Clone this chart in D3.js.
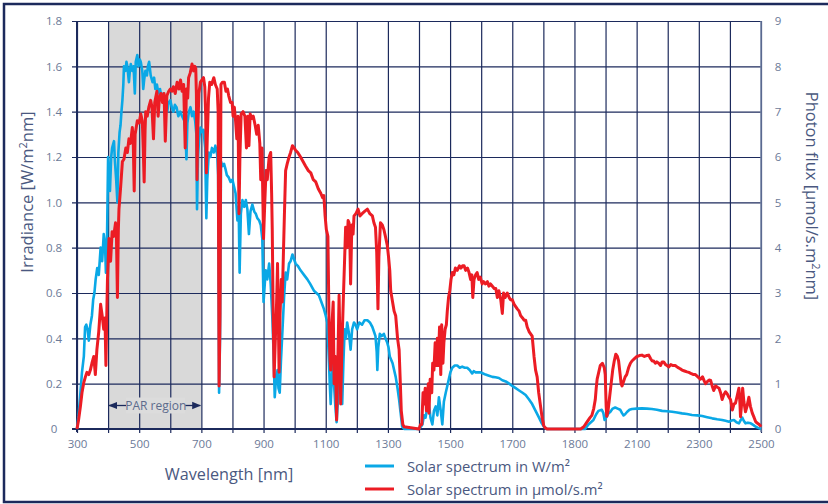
<!DOCTYPE html>
<html>
<head>
<meta charset="utf-8">
<script src="https://cdn.jsdelivr.net/npm/d3@7"></script>
<style>
  html, body { margin: 0; padding: 0; background: #ffffff; }
  svg { display: block; font-family: "Open Sans", "Lato", sans-serif; }
</style>
</head>
<body>
<svg id="chart" width="828" height="504"></svg>
<script>
// Solar irradiance spectrum (W/m²nm), wavelength in nm
const irrWavelength = [300,305,311,316,322,326,330,334,338,343,348,352,356,360,365,370,376,381,386,390,393,396,400,403,406,410,413,419,422,426,430,433,437,440,443,446,449,451,456,459,462,467,470,473,478,482,486,489,494,498,502,505,510,513,516,520,525,528,532,537,543,548,552,557,562,567,572,577,582,587,590,595,600,605,610,615,620,626,632,638,645,649,652,655,660,665,670,675,680,684,686,689,693,697,702,707,712,716,719,724,729,734,740,745,751,754,757,760,763,768,773,777,782,788,794,800,805,810,816,820,823,827,832,838,843,848,853,858,864,870,875,880,886,891,896,900,903,907,912,918,923,928,932,936,940,945,948,952,956,961,966,971,976,982,987,993,998,1003,1010,1019,1030,1041,1050,1062,1070,1078,1086,1094,1100,1105,1110,1113,1116,1120,1124,1127,1131,1135,1139,1143,1148,1153,1157,1161,1165,1169,1175,1180,1185,1191,1196,1201,1208,1217,1225,1234,1242,1250,1255,1260,1264,1266,1269,1274,1280,1287,1292,1298,1302,1306,1315,1325,1331,1336,1341,1346,1352,1400,1406,1411,1416,1421,1426,1432,1437,1443,1448,1454,1459,1464,1470,1475,1480,1486,1491,1496,1501,1507,1515,1523,1531,1539,1547,1555,1563,1571,1576,1582,1590,1598,1606,1614,1625,1636,1646,1657,1668,1679,1690,1700,1711,1722,1733,1743,1754,1764,1775,1786,1795,1802,1810,1934,1945,1953,1961,1970,1977,1988,1993,1997,2004,2010,2015,2023,2031,2039,2047,2053,2058,2063,2069,2077,2085,2100,2117,2133,2149,2165,2182,2198,2214,2230,2246,2262,2278,2295,2311,2327,2343,2359,2375,2386,2397,2405,2413,2421,2429,2435,2440,2445,2450,2458,2467,2475,2483,2491,2500];
const irrValue = [0,0.06,0.16,0.25,0.32,0.45,0.46,0.44,0.39,0.46,0.50,0.57,0.60,0.66,0.71,0.68,0.80,0.74,0.86,0.82,0.69,0.78,1.20,1.12,1.05,1.20,1.24,1.27,1.18,1.10,1.00,1.22,1.31,1.34,1.40,1.45,1.52,1.60,1.58,1.62,1.60,1.53,1.58,1.61,1.58,1.60,1.48,1.62,1.65,1.60,1.63,1.62,1.58,1.50,1.54,1.58,1.56,1.60,1.62,1.56,1.53,1.55,1.50,1.52,1.48,1.50,1.46,1.48,1.44,1.43,1.40,1.44,1.45,1.42,1.40,1.43,1.42,1.38,1.40,1.38,1.36,1.30,1.19,1.35,1.40,1.42,1.38,1.40,1.36,1.30,0.97,1.20,1.28,1.33,1.31,1.32,1.24,0.93,1.10,1.22,1.20,1.24,1.22,1.25,1.21,1.12,0.16,0.40,1.18,1.16,1.17,1.15,1.12,1.11,1.09,1.10,1.07,1.04,0.92,0.98,0.69,0.95,1.01,0.98,1.01,0.97,0.86,0.96,0.99,0.96,0.95,0.93,0.92,0.90,0.84,0.56,0.62,0.70,0.66,0.73,0.64,0.50,0.35,0.14,0.22,0.26,0.18,0.16,0.30,0.44,0.58,0.69,0.66,0.73,0.74,0.77,0.75,0.73,0.72,0.70,0.68,0.66,0.64,0.61,0.60,0.59,0.56,0.53,0.50,0.47,0.31,0.20,0.11,0.24,0.30,0.19,0.10,0.03,0.12,0.26,0.20,0.11,0.30,0.44,0.40,0.47,0.42,0.35,0.44,0.47,0.46,0.44,0.47,0.46,0.48,0.48,0.47,0.45,0.43,0.41,0.34,0.26,0.36,0.42,0.41,0.42,0.40,0.38,0.36,0.32,0.29,0.23,0.18,0.13,0.07,0.01,0,0,0.01,0.02,0.06,0.05,0.09,0.11,0.05,0.02,0.08,0.10,0.06,0.14,0.08,0.02,0.12,0.16,0.19,0.22,0.25,0.27,0.28,0.28,0.27,0.275,0.27,0.27,0.26,0.245,0.255,0.25,0.25,0.25,0.245,0.24,0.235,0.23,0.228,0.225,0.215,0.21,0.20,0.19,0.18,0.17,0.16,0.15,0.13,0.11,0.08,0.05,0.025,0.01,0,0,0.02,0.03,0.04,0.065,0.08,0.085,0.07,0.04,0.055,0.07,0.075,0.09,0.095,0.09,0.085,0.07,0.06,0.065,0.075,0.085,0.088,0.09,0.091,0.09,0.088,0.085,0.08,0.078,0.076,0.073,0.069,0.066,0.062,0.06,0.057,0.052,0.047,0.043,0.04,0.036,0.032,0.037,0.04,0.03,0.025,0.04,0.05,0.035,0.025,0.028,0.025,0.018,0.01,0.005,0];

// Photon flux spectrum (µmol/s.m²nm), wavelength in nm
const fluxWavelength = [300,305,311,316,322,327,332,338,343,348,354,359,364,370,376,381,386,390,393,396,398,403,408,413,418,424,427,430,433,435,440,443,446,451,457,462,467,472,478,481,484,487,494,500,505,510,513,516,519,521,526,531,537,541,546,550,557,561,565,570,575,580,584,589,595,600,605,610,616,622,628,633,638,643,648,652,656,659,664,670,675,679,682,684,686,688,692,697,702,707,711,714,716,719,723,727,733,740,745,751,754,757,760,763,768,774,779,784,788,794,799,802,806,810,814,818,821,824,828,834,840,845,849,853,857,862,867,873,878,883,888,891,895,898,900,904,908,912,918,923,926,928,931,934,938,942,945,948,950,953,957,960,964,967,971,976,982,987,993,998,1003,1010,1019,1027,1035,1044,1052,1060,1068,1076,1084,1090,1094,1098,1102,1107,1109,1111,1114,1116,1120,1124,1127,1131,1135,1139,1143,1146,1148,1152,1157,1161,1164,1168,1172,1175,1178,1180,1184,1188,1191,1197,1204,1210,1217,1225,1234,1242,1250,1255,1260,1264,1268,1271,1276,1282,1287,1292,1298,1302,1306,1309,1315,1320,1325,1331,1336,1340,1343,1348,1352,1400,1405,1409,1413,1416,1420,1424,1427,1430,1432,1436,1441,1444,1448,1452,1456,1459,1462,1466,1470,1473,1477,1480,1484,1488,1491,1495,1499,1503,1507,1512,1517,1523,1530,1535,1540,1545,1550,1556,1561,1566,1570,1573,1577,1582,1587,1592,1597,1603,1608,1614,1620,1625,1630,1636,1642,1647,1652,1657,1663,1668,1672,1677,1684,1690,1695,1700,1706,1711,1716,1722,1727,1733,1738,1743,1748,1754,1759,1764,1770,1775,1780,1785,1791,1796,1801,1805,1812,1920,1930,1940,1945,1950,1956,1962,1967,1970,1973,1978,1983,1990,1996,1999,2002,2004,2008,2013,2018,2023,2028,2033,2038,2042,2047,2050,2053,2058,2063,2068,2074,2080,2085,2093,2101,2109,2117,2125,2132,2139,2145,2150,2155,2160,2165,2171,2177,2182,2187,2193,2198,2203,2210,2217,2224,2232,2240,2246,2254,2262,2268,2276,2283,2289,2297,2305,2312,2318,2322,2328,2333,2338,2343,2348,2354,2360,2365,2370,2375,2380,2386,2391,2397,2402,2408,2413,2418,2424,2429,2432,2434,2437,2441,2445,2450,2455,2461,2466,2472,2478,2483,2490,2496,2500];
const fluxValue = [0,0.2,0.5,0.8,1.03,1.15,1.25,1.2,1.3,1.45,1.6,1.2,1.75,2.15,2.75,2.5,2.2,2.45,1.4,2.6,3.3,4.2,3.7,4.35,4.25,4.55,4.2,2.9,4.4,4.85,5.3,5.6,5.9,5.95,6.2,6.1,6.4,6.3,6.65,6.3,5.25,6.5,6.8,6.75,6.95,6.8,6.2,5.45,6.6,7.0,6.9,7.1,7.25,7.1,6.4,7.2,7.45,6.9,7.3,7.4,7.2,7.4,6.35,7.35,7.45,7.5,7.45,7.55,7.4,7.65,7.5,7.7,7.45,7.6,6.2,7.5,7.3,7.75,7.85,8.05,7.9,8.0,7.95,7.4,5.5,6.5,7.4,7.65,7.7,7.75,7.55,6.9,5.65,6.4,7.3,7.65,7.6,7.75,7.6,7.5,7.0,0.95,2.5,7.6,7.65,7.65,7.45,7.5,7.35,7.2,7.2,6.9,7.1,6.8,6.4,6.9,4.75,6.0,6.95,7.0,6.9,6.2,6.9,6.25,6.95,6.85,6.9,6.7,6.5,6.7,6.3,5.5,6.2,5.0,4.2,5.0,5.7,5.5,6.0,6.1,5.2,4.4,2.5,1.15,2.0,2.8,3.65,2.2,1.25,2.5,3.3,2.8,3.9,4.7,5.7,5.85,6.0,6.1,6.25,6.2,6.15,6.1,6.0,5.9,5.8,5.7,5.65,5.5,5.45,5.3,5.2,5.1,5.15,4.7,4.4,4.25,3.2,2.2,1.5,1.3,2.3,2.8,1.0,1.6,0.2,1.5,2.95,1.8,0.55,1.8,2.95,3.8,4.45,4.0,4.6,4.55,4.0,3.2,4.5,4.3,4.7,4.75,4.85,4.7,4.75,4.8,4.85,4.75,4.7,4.55,4.45,3.9,2.65,3.8,4.55,4.5,4.4,4.25,4.05,3.8,3.5,3.05,2.8,2.6,2.5,2.0,1.75,1.0,0.4,0.1,0.05,0,0.1,0.1,0.8,0.55,0.9,0.4,0.7,1.0,0.35,1.1,0.8,1.45,1.3,1.9,1.4,2.0,1.4,2.25,1.2,2.3,1.45,1.9,2.2,2.3,2.6,2.9,3.05,3.3,3.45,3.4,3.55,3.5,3.6,3.55,3.6,3.6,3.5,3.55,3.45,3.3,3.4,2.9,3.3,3.4,3.45,3.3,3.35,3.2,3.25,3.2,3.25,3.15,3.2,3.15,3.1,3.1,2.9,3.05,2.85,2.55,3.0,2.9,3.0,2.9,2.85,2.85,2.75,2.7,2.65,2.6,2.5,2.45,2.4,2.4,2.25,2.15,2.1,2.05,1.6,1.3,1.15,0.8,0.5,0.25,0.08,0.03,0,0,0.05,0.15,0.2,0.25,0.3,0.45,0.65,0.9,1.1,1.25,1.4,1.45,1.35,1.2,0.5,0.28,0.4,0.7,1.0,1.3,1.5,1.65,1.6,1.5,1.2,1.0,0.95,1.05,1.15,1.2,1.35,1.45,1.5,1.55,1.6,1.62,1.63,1.6,1.62,1.63,1.55,1.5,1.5,1.45,1.48,1.45,1.4,1.48,1.48,1.42,1.4,1.37,1.42,1.40,1.40,1.36,1.33,1.3,1.28,1.26,1.25,1.22,1.2,1.2,1.15,1.1,1.15,1.05,1.0,1.05,1.08,1.07,0.95,0.85,0.95,0.92,0.9,0.8,0.65,0.75,0.82,0.78,0.7,0.65,0.42,0.55,0.57,0.75,0.9,0.6,0.27,0.5,0.9,0.6,0.38,0.5,0.7,0.5,0.35,0.25,0.16,0.12,0.09,0.05];

// Axis ticks and labels
const irrTicks = [0, 0.2, 0.4, 0.6, 0.8, 1.0, 1.2, 1.4, 1.6, 1.8];
const irrTickLabels = ["0", "0.2", "0.4", "0.6", "0.8", "1.0", "1.2", "1.4", "1.6", "1.8"];
const fluxTicks = [0, 1, 2, 3, 4, 5, 6, 7, 8, 9];
const gridWavelengths = d3.range(300, 2501, 100);
const wlTicks = [300, 500, 700, 900, 1100, 1300, 1500, 1700, 1900, 2100, 2300, 2500];
const wlTickLabels = ["300", "500", "700", "900", "1100", "1300", "1500", "1700", "1800", "2100", "2300", "2500"];
const parRange = [400, 700];

const seriesNames = ["Solar spectrum in W/m\u00B2", "Solar spectrum in \u00B5mol/s.m\u00B2"];

const NAVY = "#1c2a5c";
const TEXT = "#4a5880";
const TICK_TEXT = "#6c7a98";
const BLUE = "#0aa8e6";
const RED = "#ec1c24";

const svg = d3.select("#chart");
const plot = { left: 77, right: 761, top: 21, bottom: 429 };

const x = d3.scaleLinear().domain([300, 2500]).range([plot.left, plot.right]);
const yIrr = d3.scaleLinear().domain([0, 1.8]).range([plot.bottom, plot.top]);
const yFlux = d3.scaleLinear().domain([0, 9]).range([plot.bottom, plot.top]);

// outer frame
svg.append("rect")
  .attr("x", 4).attr("y", 4).attr("width", 840).attr("height", 498)
  .attr("fill", "none").attr("stroke", NAVY).attr("stroke-width", 2.5);

// PAR band
svg.append("rect")
  .attr("x", x(parRange[0])).attr("y", plot.top)
  .attr("width", x(parRange[1]) - x(parRange[0]))
  .attr("height", plot.bottom - plot.top)
  .attr("fill", "#d9d9d9");

// grid lines
const grid = svg.append("g");
grid.append("g")
  .attr("transform", `translate(${plot.left},0)`)
  .call(d3.axisLeft(yIrr).tickValues(irrTicks).tickSize(-(plot.right - plot.left) - 5).tickSizeOuter(0).tickFormat(""))
  .call(g => g.select(".domain").remove())
  .call(g => g.selectAll(".tick line").attr("x1", -5).attr("x2", plot.right - plot.left)
    .attr("stroke", NAVY).attr("stroke-width", 1.2));
grid.append("g")
  .attr("transform", `translate(0,${plot.bottom})`)
  .call(d3.axisBottom(x).tickValues(gridWavelengths).tickSize(0).tickFormat(""))
  .call(g => g.select(".domain").remove())
  .call(g => g.selectAll(".tick line").attr("y1", 4).attr("y2", -(plot.bottom - plot.top))
    .attr("stroke", NAVY).attr("stroke-width", 1.2));

// axis lines
svg.append("line").attr("x1", plot.left).attr("x2", plot.left)
  .attr("y1", plot.top).attr("y2", plot.bottom + 3)
  .attr("stroke", NAVY).attr("stroke-width", 2);
svg.append("line").attr("x1", plot.left - 5).attr("x2", plot.right)
  .attr("y1", plot.bottom).attr("y2", plot.bottom)
  .attr("stroke", NAVY).attr("stroke-width", 2);
svg.append("line").attr("x1", plot.right).attr("x2", plot.right)
  .attr("y1", plot.top).attr("y2", plot.bottom + 3)
  .attr("stroke", "#6f7fa2").attr("stroke-width", 1.5);

// tick labels
const leftAxis = svg.append("g")
  .attr("transform", `translate(${plot.left},0)`)
  .call(d3.axisLeft(yIrr).tickValues(irrTicks).tickSize(0)
    .tickFormat((d, i) => irrTickLabels[i]));
leftAxis.select(".domain").remove();
leftAxis.selectAll("text")
  .attr("x", -23).attr("text-anchor", "middle")
  .attr("fill", TICK_TEXT).style("font-size", "11.5px").style("font-family", "'Open Sans', sans-serif");

const rightAxis = svg.append("g")
  .attr("transform", `translate(${plot.right},0)`)
  .call(d3.axisRight(yFlux).tickValues(fluxTicks).tickSize(0).tickFormat(d3.format("d")));
rightAxis.select(".domain").remove();
rightAxis.selectAll("text")
  .attr("x", 17).attr("text-anchor", "middle")
  .attr("fill", TICK_TEXT).style("font-size", "11.5px").style("font-family", "'Open Sans', sans-serif");

const bottomAxis = svg.append("g")
  .attr("transform", `translate(0,${plot.bottom})`)
  .call(d3.axisBottom(x).tickValues(wlTicks).tickSize(0)
    .tickFormat((d, i) => wlTickLabels[i]));
bottomAxis.select(".domain").remove();
bottomAxis.selectAll("text")
  .attr("y", 11)
  .attr("fill", TICK_TEXT).style("font-size", "11.5px").style("font-family", "'Open Sans', sans-serif");

// spectra
const irrData = irrWavelength.map((w, i) => [w, irrValue[i]]);
const fluxData = fluxWavelength.map((w, i) => [w, fluxValue[i]]);

svg.append("path")
  .datum(irrData)
  .attr("d", d3.line().x(d => x(d[0])).y(d => yIrr(d[1])))
  .attr("fill", "none").attr("stroke", BLUE).attr("stroke-width", 2.6)
  .attr("stroke-linejoin", "round");

svg.append("path")
  .datum(fluxData)
  .attr("d", d3.line().x(d => x(d[0])).y(d => yFlux(d[1])))
  .attr("fill", "none").attr("stroke", RED).attr("stroke-width", 3)
  .attr("stroke-linejoin", "round");

// PAR region marker
const parY = 405.5;
const defs = svg.append("defs");
defs.append("marker").attr("id", "arrow")
  .attr("viewBox", "0 0 10 10").attr("refX", 9).attr("refY", 5)
  .attr("markerWidth", 7).attr("markerHeight", 7).attr("orient", "auto-start-reverse")
  .append("path").attr("d", "M0,1 L10,5 L0,9 Z").attr("fill", NAVY);
svg.append("line")
  .attr("x1", x(parRange[0]) + 18).attr("x2", x(parRange[0]) + 1)
  .attr("y1", parY).attr("y2", parY)
  .attr("stroke", NAVY).attr("stroke-width", 1.3).attr("marker-end", "url(#arrow)");
svg.append("line")
  .attr("x1", x(parRange[1]) - 16).attr("x2", x(parRange[1]) - 1)
  .attr("y1", parY).attr("y2", parY)
  .attr("stroke", NAVY).attr("stroke-width", 1.3).attr("marker-end", "url(#arrow)");
svg.append("rect")
  .attr("x", 126).attr("y", parY - 8).attr("width", 59).attr("height", 16)
  .attr("fill", "#dcdcdc");
svg.append("text")
  .attr("x", (x(parRange[0]) + x(parRange[1])) / 2 + 1).attr("y", parY + 4.5)
  .attr("text-anchor", "middle").attr("fill", "#5d6b8c")
  .style("font-size", "12px")
  .text("PAR region");

// axis titles
svg.append("text")
  .attr("transform", "translate(33,192) rotate(-90)")
  .attr("text-anchor", "middle").attr("fill", TEXT)
  .style("font-size", "16.5px")
  .html('Irradiance [W/m<tspan dy="-6" font-size="11">2</tspan><tspan dy="6">nm]</tspan>');

svg.append("text")
  .attr("transform", "translate(806,196) rotate(90)")
  .attr("text-anchor", "middle").attr("fill", TEXT)
  .style("font-size", "16.5px")
  .html('Photon flux [\u00B5mol/s.m<tspan dy="-6" font-size="11">2</tspan><tspan dy="6">nm]</tspan>');

svg.append("text")
  .attr("x", 229).attr("y", 480)
  .attr("text-anchor", "middle").attr("fill", TEXT)
  .style("font-size", "16.2px")
  .text("Wavelength [nm]");

// legend
const legend = svg.append("g");
[BLUE, RED].forEach((c, i) => {
  const ly = 466 + i * 23;
  legend.append("line")
    .attr("x1", 365).attr("x2", 394).attr("y1", ly).attr("y2", ly)
    .attr("stroke", c).attr("stroke-width", 3);
  legend.append("text")
    .attr("x", 407).attr("y", ly + 6)
    .attr("fill", TEXT).style("font-size", "14.8px")
    .text(seriesNames[i]);
});
</script>
</body>
</html>
